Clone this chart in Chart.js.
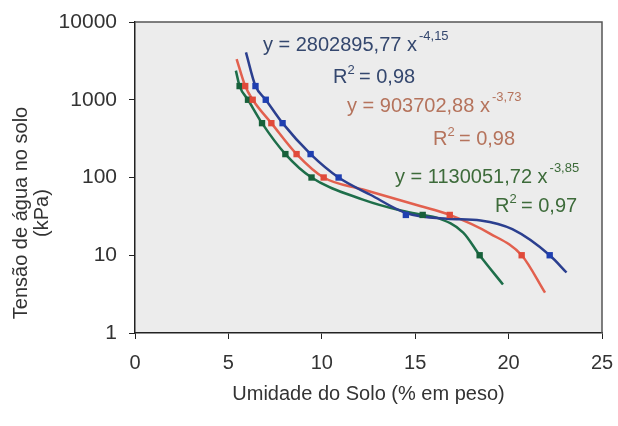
<!DOCTYPE html>
<html>
<head>
<meta charset="utf-8">
<script src="https://cdn.jsdelivr.net/npm/chart.js@4"></script>
<style>
    html, body { margin: 0; padding: 0; background: #ffffff; }
    #wrap { width: 618px; height: 426px; }
</style>
</head>
<body>
<div id="wrap"><canvas id="retentionChart" width="618" height="426"></canvas></div>
<script>
// Tension levels (kPa) measured, shared by the three samples
const tensionKPa = [1500, 1000, 500, 200, 100, 33, 10];

// Soil moisture (% by weight) at each tension
const moistureBlue = [6.45, 7.0, 7.9, 9.4, 10.9, 14.5, 22.2];
const moistureRed = [5.9, 6.3, 7.3, 8.65, 10.1, 16.85, 20.7];
const moistureGreen = [5.6, 6.05, 6.8, 8.05, 9.45, 15.4, 18.45];

// Trend curves, points
const curveBlueX = [5.94, 6.45, 7.0, 7.9, 9.4, 10.9, 12.6, 14.5, 16.7, 18.5, 20.2, 22.2, 23.1];
const curveBlueY = [4070, 1500, 1000, 500, 200, 100, 60, 35, 29.5, 28, 21.6, 10, 6.0];
const curveRedX = [5.44, 5.9, 6.3, 7.3, 8.65, 10.1, 12.2, 15.26, 16.85, 19.0, 20.7, 21.95];
const curveRedY = [3340, 1500, 1000, 500, 200, 100, 70, 43, 33, 19, 10, 3.3];
const curveGreenX = [5.4, 5.6, 6.05, 6.8, 8.05, 9.45, 12.2, 14.35, 15.4, 16.15, 17.57, 18.45, 19.7];
const curveGreenY = [2370, 1500, 1000, 500, 200, 100, 52, 37, 33, 30.5, 19.6, 10, 4.2];

// Axis ticks
const xTicks = [0, 5, 10, 15, 20, 25];
const yTicks = [1, 10, 100, 1000, 10000];

// Trend equation labels
const eqCoefs = ['2802895,77', '903702,88', '1130051,72'];
const eqExponents = ['-4,15', '-3,73', '-3,85'];
const eqR2 = ['0,98', '0,98', '0,97'];

const FONT = "'Liberation Sans', Arial, sans-serif";

document.addEventListener('DOMContentLoaded', () => {
    const toPoints = (xs, ys) => xs.map((x, i) => ({ x: x, y: ys[i] }));

    function markerSet(xs, color) {
        return {
            data: toPoints(xs, tensionKPa),
            showLine: false,
            pointStyle: 'rect',
            pointRadius: 4.5,
            backgroundColor: color,
            borderColor: color,
            borderWidth: 0,
            order: 0
        };
    }

    function curveSet(xs, ys, color) {
        return {
            data: toPoints(xs, ys),
            showLine: true,
            pointRadius: 0,
            borderColor: color,
            borderWidth: 2.5,
            cubicInterpolationMode: 'monotone',
            order: 1
        };
    }

    // Plot area fill, top/right frame, y title and the equations
    const decorPlugin = {
        id: 'decor',
        beforeDraw(chart) {
            const a = chart.chartArea;
            const ctx = chart.ctx;
            ctx.save();
            ctx.fillStyle = '#ececec';
            ctx.fillRect(a.left, a.top, a.right - a.left, a.bottom - a.top);
            ctx.restore();
        },
        afterDraw(chart) {
            const a = chart.chartArea;
            const ctx = chart.ctx;
            const xs = chart.scales.x;
            const ys = chart.scales.y;
            ctx.save();

            ctx.strokeStyle = '#555';
            ctx.lineWidth = 1.5;
            ctx.beginPath();
            ctx.moveTo(a.left, a.top);
            ctx.lineTo(a.right, a.top);
            ctx.lineTo(a.right, a.bottom);
            ctx.stroke();

            // y axis title (two lines, rotated)
            ctx.fillStyle = '#333';
            ctx.font = '20px ' + FONT;
            ctx.textAlign = 'center';
            ctx.textBaseline = 'middle';
            ctx.translate(21, 213);
            ctx.rotate(-Math.PI / 2);
            ctx.fillText('Tensão de água no solo', 0, 0);
            ctx.fillText('(kPa)', 0, 21);
            ctx.setTransform(1, 0, 0, 1, 0, 0);

            const labels = [
                { color: '#34476e', eq: [6.85, 4200], r2: [10.6, 1624] },
                { color: '#b5735c', eq: [11.35, 686], r2: [15.95, 258] },
                { color: '#3d6b3a', eq: [13.92, 86], r2: [19.27, 35.5] }
            ];
            ctx.textAlign = 'left';
            ctx.textBaseline = 'alphabetic';
            labels.forEach((l, i) => {
                ctx.fillStyle = l.color;
                let px = xs.getPixelForValue(l.eq[0]);
                let py = ys.getPixelForValue(l.eq[1]);
                ctx.font = '20px ' + FONT;
                const main = 'y = ' + eqCoefs[i] + ' x';
                ctx.fillText(main, px, py);
                const w = ctx.measureText(main).width;
                ctx.font = '13px ' + FONT;
                ctx.fillText(eqExponents[i], px + w + 2, py - 11);

                px = xs.getPixelForValue(l.r2[0]);
                py = ys.getPixelForValue(l.r2[1]);
                ctx.font = '20px ' + FONT;
                ctx.fillText('R', px, py);
                const rw = ctx.measureText('R').width;
                ctx.font = '13px ' + FONT;
                ctx.fillText('2', px + rw, py - 9);
                ctx.font = '20px ' + FONT;
                ctx.fillText(' = ' + eqR2[i], px + rw + 6, py);
            });
            ctx.restore();
        }
    };

    const ctx = document.getElementById('retentionChart').getContext('2d');
    new Chart(ctx, {
        type: 'scatter',
        data: {
            datasets: [
                markerSet(moistureBlue, '#1f3fb0'),
                markerSet(moistureRed, '#e04a3a'),
                markerSet(moistureGreen, '#17603a'),
                curveSet(curveBlueX, curveBlueY, '#2b3f8f'),
                curveSet(curveRedX, curveRedY, '#e2604e'),
                curveSet(curveGreenX, curveGreenY, '#1e6e4a')
            ]
        },
        options: {
            responsive: false,
            animation: false,
            layout: { padding: { top: 22, right: 16, left: 0, bottom: 0 } },
            plugins: {
                legend: { display: false },
                tooltip: { enabled: false }
            },
            scales: {
                x: {
                    type: 'linear',
                    min: 0,
                    max: 25,
                    afterBuildTicks: (scale) => { scale.ticks = xTicks.map(v => ({ value: v })); },
                    afterFit: (scale) => {
                        scale.height = 93;
                        scale.paddingLeft = 0;
                        scale.paddingRight = 0;
                    },
                    grid: { drawOnChartArea: false, drawTicks: true, tickLength: 6, color: '#222' },
                    border: { display: true, color: '#222', width: 1.5 },
                    ticks: {
                        padding: 12,
                        color: '#333',
                        font: { family: FONT, size: 20 },
                        callback: (v) => String(v)
                    },
                    title: {
                        display: true,
                        text: 'Umidade do Solo (% em peso)',
                        color: '#333',
                        font: { family: FONT, size: 20 },
                        padding: { top: 4, bottom: 20 }
                    }
                },
                y: {
                    type: 'logarithmic',
                    min: 1,
                    max: 10000,
                    afterBuildTicks: (scale) => { scale.ticks = yTicks.map(v => ({ value: v })); },
                    afterFit: (scale) => {
                        scale.width = 135;
                        scale.paddingTop = 0;
                        scale.paddingBottom = 0;
                    },
                    grid: { drawOnChartArea: false, drawTicks: true, tickLength: 6, color: '#222' },
                    border: { display: true, color: '#222', width: 1.5 },
                    ticks: {
                        padding: 12,
                        color: '#333',
                        font: { family: FONT, size: 21 },
                        callback: (v) => String(v)
                    }
                }
            }
        },
        plugins: [decorPlugin]
    });
});
</script>
</body>
</html>
